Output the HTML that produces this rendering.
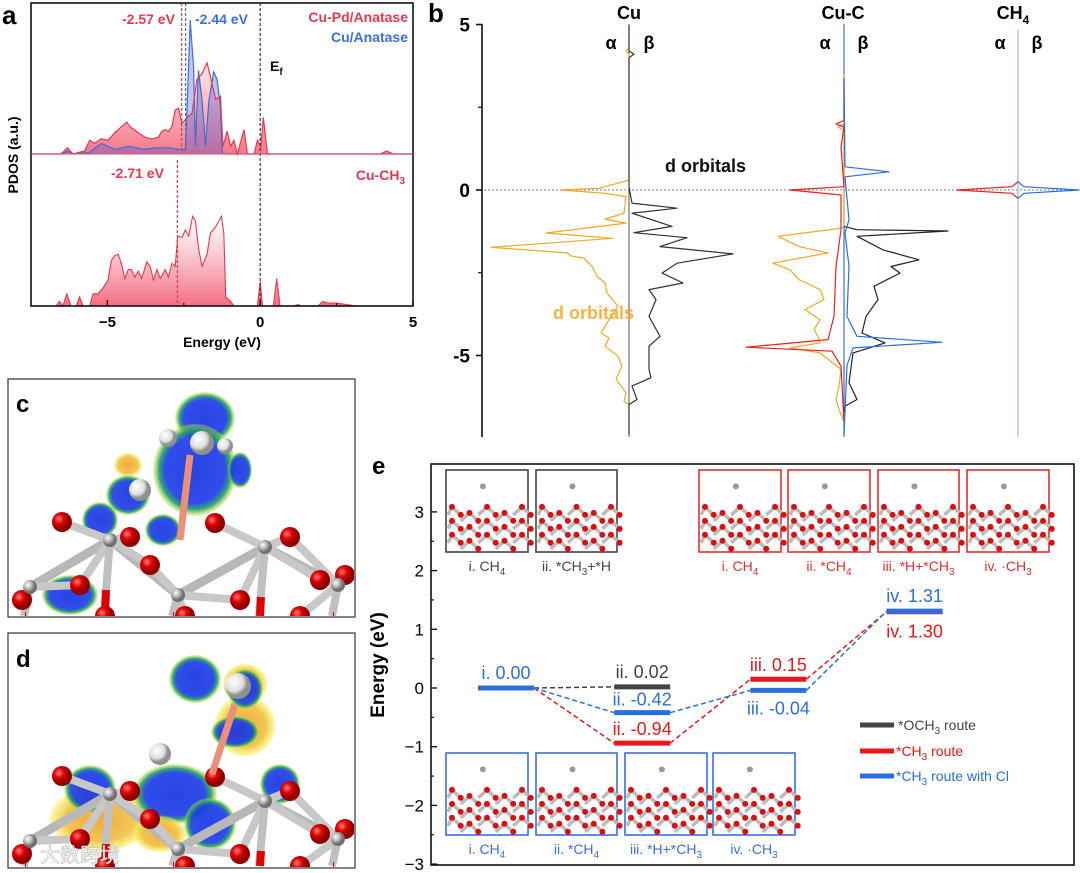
<!DOCTYPE html>
<html><head><meta charset="utf-8">
<style>
html,body{margin:0;padding:0;background:#fff;width:1080px;height:873px;overflow:hidden;}
svg{display:block;font-family:"Liberation Sans","Noto Sans CJK SC",sans-serif;}
</style></head>
<body>
<svg id="fig" width="1080" height="873" viewBox="0 0 1080 873" xmlns="http://www.w3.org/2000/svg">
<defs>
<linearGradient id="gradA" x1="0" y1="0" x2="0" y2="1">
<stop offset="0" stop-color="#f06a7a" stop-opacity="0.15"/><stop offset="1" stop-color="#f04860" stop-opacity="0.75"/>
</linearGradient>
<linearGradient id="gradB" x1="0" y1="0" x2="0" y2="1">
<stop offset="0" stop-color="#ffffff" stop-opacity="0.6"/><stop offset="1" stop-color="#f04860" stop-opacity="0.8"/>
</linearGradient>
<radialGradient id="blueBlob"><stop offset="0" stop-color="#1030e0"/><stop offset="0.72" stop-color="#1a3ae8"/><stop offset="0.86" stop-color="#20a060"/><stop offset="1" stop-color="#c8e040" stop-opacity="0.4"/></radialGradient>
<radialGradient id="yelBlob"><stop offset="0" stop-color="#f0a030"/><stop offset="0.7" stop-color="#f0c040"/><stop offset="1" stop-color="#f8f040" stop-opacity="0.5"/></radialGradient>
<radialGradient id="redBall" cx="0.35" cy="0.35"><stop offset="0" stop-color="#ff8080"/><stop offset="0.5" stop-color="#e00000"/><stop offset="1" stop-color="#900000"/></radialGradient>
<radialGradient id="grayBall" cx="0.35" cy="0.35"><stop offset="0" stop-color="#ffffff"/><stop offset="0.6" stop-color="#b0b0b0"/><stop offset="1" stop-color="#707070"/></radialGradient>
<radialGradient id="whiteBall" cx="0.35" cy="0.35"><stop offset="0" stop-color="#ffffff"/><stop offset="0.7" stop-color="#e0e0e0"/><stop offset="1" stop-color="#909090"/></radialGradient>
</defs>

<g id="panelA">
<text x="2" y="24" font-size="26" font-weight="bold">a</text>
<g id="aPlot"></g>
<rect x="31" y="3" width="382" height="303" fill="none" stroke="#111" stroke-width="1.6"/>
<line x1="31" y1="154" x2="413" y2="154" stroke="#e05070" stroke-width="1"/>
<text x="122" y="24" font-size="14" font-weight="bold" fill="#e8384f">-2.57 eV</text>
<text x="195" y="24" font-size="14" font-weight="bold" fill="#3a6fdc">-2.44 eV</text>
<text x="408" y="22" font-size="14" font-weight="bold" fill="#e8384f" text-anchor="end">Cu-Pd/Anatase</text>
<text x="408" y="42" font-size="14" font-weight="bold" fill="#3a6fdc" text-anchor="end">Cu/Anatase</text>
<text x="270" y="71" font-size="14" font-weight="bold" fill="#111">E<tspan font-size="10" dy="4">f</tspan></text>
<text x="111" y="178" font-size="14" font-weight="bold" fill="#e8384f">-2.71 eV</text>
<text x="405" y="180" font-size="14" font-weight="bold" fill="#e8384f" text-anchor="end">Cu-CH<tspan font-size="10" dy="4">3</tspan></text>
<g id="aTicks"></g>
<text x="222" y="347" font-size="14" font-weight="bold" text-anchor="middle">Energy (eV)</text>
<text transform="translate(18,155) rotate(-90)" font-size="14" font-weight="bold" text-anchor="middle">PDOS (a.u.)</text>
</g>

<g id="panelB">
<text x="428" y="22" font-size="26" font-weight="bold">b</text>
<g id="bPlot"></g>
<text x="629" y="19" font-size="18" font-weight="bold" text-anchor="middle">Cu</text>
<text x="843" y="19" font-size="18" font-weight="bold" text-anchor="middle">Cu-C</text>
<text x="1013" y="19" font-size="18" font-weight="bold" text-anchor="middle">CH<tspan font-size="12" dy="5">4</tspan></text>
<text x="611" y="49" font-size="18" font-weight="bold" text-anchor="middle">α</text>
<text x="649" y="49" font-size="18" font-weight="bold" text-anchor="middle">β</text>
<text x="825" y="49" font-size="18" font-weight="bold" text-anchor="middle">α</text>
<text x="863" y="49" font-size="18" font-weight="bold" text-anchor="middle">β</text>
<text x="1000" y="49" font-size="18" font-weight="bold" text-anchor="middle">α</text>
<text x="1037" y="49" font-size="18" font-weight="bold" text-anchor="middle">β</text>
<text x="665" y="172" font-size="18" font-weight="bold" fill="#111">d orbitals</text>
<text x="553" y="319" font-size="18" font-weight="bold" fill="#f5a623" fill-opacity="0.85">d orbitals</text>
</g>

<g id="panelC">
<rect x="8" y="379" width="347" height="238" fill="#fff" stroke="#333" stroke-width="1.2"/>
<g id="cDraw"></g>
<text x="16" y="412" font-size="24" font-weight="bold">c</text>
</g>

<g id="panelD">
<rect x="8" y="633" width="347" height="235" fill="#fff" stroke="#333" stroke-width="1.2"/>
<g id="dDraw"></g>
<text x="16" y="667" font-size="24" font-weight="bold">d</text>
<text x="40" y="862" font-size="20" fill="#fff" stroke="#bbb" stroke-width="0.6">大数跨境</text>
</g>

<g id="panelE">
<text x="372" y="474" font-size="24" font-weight="bold">e</text>
<rect x="431" y="464" width="643" height="401" fill="none" stroke="#111" stroke-width="1.6"/>
<g id="eTicks"></g>
<text transform="translate(384,665) rotate(-90)" font-size="19" font-weight="bold" text-anchor="middle">Energy (eV)</text>
<g id="eInsets"></g>
<g id="ePlot"></g>
<g id="eLegend">
<line x1="860" y1="725" x2="894" y2="725" stroke="#444" stroke-width="5"/>
<text x="898" y="730" font-size="14" fill="#444">*OCH<tspan font-size="10" dy="4">3</tspan><tspan dy="-4"> route</tspan></text>
<line x1="860" y1="751" x2="894" y2="751" stroke="#e81818" stroke-width="5"/>
<text x="896" y="756" font-size="14" fill="#e81818">*CH<tspan font-size="10" dy="4">3</tspan><tspan dy="-4"> route</tspan></text>
<line x1="860" y1="776" x2="894" y2="776" stroke="#2a6fe0" stroke-width="5"/>
<text x="896" y="781" font-size="14" fill="#2a6fe0">*CH<tspan font-size="10" dy="4">3</tspan><tspan dy="-4"> route with Cl</tspan></text>
</g>
</g>
</svg>

<script>
// ===== Panel a data (energy in eV, PDOS a.u.) =====
const aCuPdE = [-7.5,-6.52,-6.3,-6.13,-5.75,-5.58,-5.42,-5.2,-4.98,-4.76,-4.59,-4.37,-4.26,-3.99,-3.77,-3.55,-3.33,-3.22,-3.11,-3.0,-2.89,-2.78,-2.67,-2.56,-2.4,-2.23,-2.07,-1.9,-1.74,-1.63,-1.46,-1.3,-1.22,-1.08,-0.97,-0.86,-0.75,-0.53,-0.42,-0.2,-0.09,0.02,0.1,0.24,3.92,4.14,4.36,5.0];
const aCuPdV = [0,0,0.04,0,0.02,0.09,0.07,0.10,0.09,0.14,0.17,0.21,0.18,0.14,0.11,0.10,0.11,0.15,0.16,0.15,0.18,0.29,0.30,0.20,0.24,0.27,0.49,0.53,0.60,0.51,0.36,0.38,0.05,0.15,0.05,0.09,0,0.16,0,0,0.09,0.05,0.24,0,0,0.02,0,0];
const aCuE = [-7.5,-6.5,-6.3,-6.1,-5.6,-5.2,-4.98,-4.76,-4.3,-3.8,-3.4,-3.0,-2.7,-2.45,-2.4,-2.29,-2.18,-2.12,-2.02,-1.9,-1.79,-1.68,-1.52,-1.41,-1.3,-1.24,5.0];
const aCuV = [0,0,0.02,0,0.01,0.07,0.05,0.03,0.05,0.03,0.04,0.04,0.03,0.03,0.27,0.88,0.57,0.05,0.55,0.35,0.05,0.35,0.54,0.49,0.31,0,0];
const aCuCH3E = [-7.5,-6.68,-6.57,-6.46,-6.33,-6.19,-6.02,-5.91,-5.8,-5.58,-5.47,-5.31,-5.14,-4.98,-4.87,-4.76,-4.65,-4.54,-4.43,-4.32,-4.21,-4.1,-3.99,-3.88,-3.71,-3.6,-3.49,-3.38,-3.27,-3.11,-3.0,-2.89,-2.78,-2.7,-2.56,-2.45,-2.34,-2.21,-2.12,-2.01,-1.9,-1.74,-1.63,-1.46,-1.27,-1.19,-1.13,-0.97,-0.86,-0.09,0,0.08,0.43,0.54,0.65,1.12,1.23,1.34,1.89,2.05,2.22,2.49,2.82,3.15,5.0];
const aCuCH3V = [0,0,0.03,0,0.08,0,0,0.06,0,0,0.08,0.08,0.12,0.17,0.30,0.33,0.34,0.28,0.18,0.24,0.24,0.19,0.23,0.18,0.29,0.26,0.17,0.24,0.18,0.24,0.19,0.28,0.26,0.46,0.45,0.50,0.46,0.59,0.56,0.37,0.26,0.34,0.48,0.52,0.59,0.48,0.06,0.03,0,0,0.16,0,0,0.18,0,0,0.01,0,0,0.03,0.02,0.02,0.01,0,0];
const aDbandCenters = [-2.57,-2.44,-2.71];
const aXTicks = [-5,0,5];

// ===== Panel b data (energy eV, DOS a.u.; alpha negative, beta positive) =====
const bCuAlphaE = [5,4.3,4.2,4.1,0.3,0.05,0,-0.1,-0.2,-0.7,-0.88,-1.0,-1.3,-1.46,-1.73,-1.9,-1.99,-2.06,-2.31,-2.61,-2.81,-3.11,-3.51,-3.92,-4.32,-4.47,-4.72,-5.02,-5.32,-5.72,-6.12,-6.38,-6.48,-7.4];
const bCuAlphaV = [0,0,-0.03,0,0,-0.3,-0.68,-0.24,-0.03,-0.05,-0.24,-0.03,-0.83,-0.16,-1.38,-0.62,-0.58,-0.45,-0.37,-0.32,-0.24,-0.22,-0.11,-0.20,-0.28,-0.20,-0.24,-0.11,-0.07,-0.13,-0.03,-0.05,0,0];
const bCuBetaE = [5,4.2,4.1,4.0,0.1,-0.4,-0.55,-0.7,-1.1,-1.29,-1.44,-1.71,-1.93,-2.21,-2.51,-2.81,-3.01,-3.31,-3.82,-4.42,-4.72,-5.12,-5.42,-5.67,-5.92,-6.33,-6.48,-7.4];
const bCuBetaV = [0,0,0.05,0,0,0.03,0.48,0.03,0.43,0.05,0.58,0.31,1.04,0.48,0.33,0.54,0.20,0.27,0.20,0.31,0.20,0.20,0.20,0.22,0.03,0.08,0,0];
const bCuCAlphaOE = [3.5,2.0,1.9,1.8,-1.1,-1.15,-1.4,-1.71,-1.9,-2.21,-2.41,-2.71,-3.01,-3.31,-3.61,-3.92,-4.22,-4.42,-4.62,-4.77,-4.92,-5.42,-5.92,-6.33,-6.63,-7.0];
const bCuCAlphaOV = [0,0,-0.06,0,0,-0.02,-0.66,-0.45,-0.16,-0.71,-0.54,-0.45,-0.24,-0.20,-0.39,-0.24,-0.30,-0.26,-0.24,-0.54,-0.24,-0.03,-0.05,-0.08,-0.05,0];
const bCuCAlphaRE = [3.3,2.1,2.0,1.9,1.3,0.1,0,-0.15,-1.2,-2.31,-3.82,-4.52,-4.75,-4.87,-5.32,-7.0];
const bCuCAlphaRV = [0,0,-0.08,0,-0.03,0,-0.54,-0.03,-0.03,-0.08,-0.10,-0.16,-0.98,-0.12,-0.03,0];
const bCuCBetaBE = [3.4,0.7,0.55,0.4,-0.9,-1.3,-2.3,-3.82,-4.42,-4.6,-4.77,-5.3,-7.4];
const bCuCBetaBV = [0,0.01,0.45,0.01,0.05,0.01,0.05,0.03,0.13,0.98,0.09,0.03,0];
const bCuCBetaKE = [-1.1,-1.2,-1.24,-1.4,-1.81,-2.11,-2.31,-2.51,-2.91,-3.31,-3.82,-4.32,-4.62,-4.92,-5.82,-6.33,-6.53,-6.7];
const bCuCBetaKV = [0,0.13,1.04,0.13,0.39,0.75,0.47,0.56,0.30,0.34,0.22,0.18,0.41,0.09,0.05,0.13,0.01,0];
const bCH4AlphaE = [0.25,0.1,0,-0.1,-0.25];
const bCH4AlphaV = [0,-0.06,-0.61,-0.06,0];
const bCH4BetaE = [0.25,0.1,0,-0.1,-0.25];
const bCH4BetaV = [0,0.06,0.61,0.06,0];
const bYTicks = [5,0,-5];

// ===== Panel e data =====
const eSteps = ['i','ii','iii','iv'];
const eBlack = [0.00,0.02];
const eRed = [0.00,-0.94,0.15,1.30];
const eBlue = [0.00,-0.42,-0.04,1.31];
const eYTicks = [3,2,1,0,-1,-2,-3];

const NS='http://www.w3.org/2000/svg';
function mk(tag, attrs, parent){const e=document.createElementNS(NS,tag);for(const k in attrs)e.setAttribute(k,attrs[k]);if(parent)parent.appendChild(e);return e;}

// ---------- Panel a ----------
const ax = e => 31 + (e + 7.5) * (382/12.5);
const ayTop = v => 154 - v*152;
const ayBot = v => 306 - v*152;
const aPlot=document.getElementById('aPlot');
function areaPath(E,V,yf,base){let d='M'+ax(E[0])+','+base;for(let i=0;i<E.length;i++)d+=' L'+ax(E[i]).toFixed(1)+','+yf(V[i]).toFixed(1);d+=' L'+ax(E[E.length-1])+','+base+' Z';return d;}
function linePath(E,V,yf){let d='';for(let i=0;i<E.length;i++)d+=(i?' L':'M')+ax(E[i]).toFixed(1)+','+yf(V[i]).toFixed(1);return d;}
let p=mk('path',{d:areaPath(aCuPdE,aCuPdV,ayTop,154),fill:'url(#gradA)',stroke:'none'},aPlot);


p=mk('path',{d:areaPath(aCuE,aCuV,ayTop,154),fill:'#4a5ad0',"fill-opacity":'0.35',stroke:'none'},aPlot);


p=mk('path',{d:linePath(aCuE,aCuV,ayTop),fill:'none',stroke:'#3a6fdc','stroke-width':1.2},aPlot);


p=mk('path',{d:linePath(aCuPdE,aCuPdV,ayTop),fill:'none',stroke:'#e8384f','stroke-width':1.2},aPlot);


p=mk('path',{d:areaPath(aCuCH3E,aCuCH3V,ayBot,306),fill:'url(#gradB)',stroke:'none'},aPlot);


p=mk('path',{d:linePath(aCuCH3E,aCuCH3V,ayBot),fill:'none',stroke:'#e8384f','stroke-width':1.1},aPlot);


const dbColors=['#e8384f','#3a6fdc','#e8384f'];
const dbY=[[3,154],[3,154],[160,306]];
aDbandCenters.forEach((c,i)=>{const l=mk('line',{x1:ax(c),x2:ax(c),y1:dbY[i][0],y2:dbY[i][1],stroke:dbColors[i],'stroke-width':1.2,'stroke-dasharray':'3,2'},aPlot);

});
const ef=mk('line',{x1:ax(0),x2:ax(0),y1:3,y2:306,stroke:'#333','stroke-width':1.2,'stroke-dasharray':'3,2'},aPlot);


const aT=document.getElementById('aTicks');
aXTicks.forEach(t=>{mk('line',{x1:ax(t),x2:ax(t),y1:306,y2:300,stroke:'#111','stroke-width':1.4},aT);
const tx=mk('text',{x:ax(t),y:327,'font-size':15,'font-weight':'bold','text-anchor':'middle'},aT);tx.textContent=(t<0?'−':'')+Math.abs(t);

});
[-2.5,2.5].forEach(t=>mk('line',{x1:ax(t),x2:ax(t),y1:306,y2:303,stroke:'#111','stroke-width':1.2},aT));

// ---------- Panel b ----------
const by = e => 190 - e*33.1;
const bPlot=document.getElementById('bPlot');
mk('line',{x1:482,x2:482,y1:24,y2:437,stroke:'#111','stroke-width':1.6},bPlot);
bYTicks.forEach(t=>{mk('line',{x1:476,x2:482,y1:by(t),y2:by(t),stroke:'#111','stroke-width':1.6},bPlot);
const tx=mk('text',{x:470,y:by(t)+7,'font-size':19,'font-weight':'bold','text-anchor':'end'},bPlot);tx.textContent=t<0?'-5':String(t);

});
[2.5,-2.5].forEach(t=>mk('line',{x1:478,x2:482,y1:by(t),y2:by(t),stroke:'#111','stroke-width':1.2},bPlot));
const fl=mk('line',{x1:484,x2:1080,y1:by(0),y2:by(0),stroke:'#999','stroke-width':1.2,'stroke-dasharray':'2,2'},bPlot);


const centers={cu:629,cuc:844,ch4:1018};
mk('line',{x1:629,x2:629,y1:by(4.4),y2:437,stroke:'#555','stroke-width':1},bPlot);
mk('line',{x1:844,x2:844,y1:24,y2:437,stroke:'#3a6fdc','stroke-width':1.2},bPlot);
mk('line',{x1:1018,x2:1018,y1:30,y2:437,stroke:'#9ab4f0','stroke-width':1.2},bPlot);
function bCurve(E,V,cx,color,name){let d='';for(let i=0;i<E.length;i++)d+=(i?' L':'M')+(cx+V[i]*100).toFixed(1)+','+by(E[i]).toFixed(1);
const pp=mk('path',{d:d,fill:'none',stroke:color,'stroke-width':1.2,'stroke-linejoin':'round'},bPlot);

}
bCurve(bCuAlphaE,bCuAlphaV,centers.cu,'#f5a623','cu-alpha-d-dos');
bCurve(bCuBetaE,bCuBetaV,centers.cu,'#333','cu-beta-d-dos');
bCurve(bCuCAlphaOE,bCuCAlphaOV,centers.cuc,'#f5a623','cu-c-alpha-d-dos');
bCurve(bCuCBetaKE,bCuCBetaKV,centers.cuc,'#222','cu-c-beta-d-dos');
bCurve(bCuCAlphaRE,bCuCAlphaRV,centers.cuc,'#e82020','cu-c-alpha-c-dos');
bCurve(bCuCBetaBE,bCuCBetaBV,centers.cuc,'#2a6fe0','cu-c-beta-c-dos');
bCurve(bCH4AlphaE,bCH4AlphaV,centers.ch4,'#e82020','ch4-alpha-dos');
bCurve(bCH4BetaE,bCH4BetaV,centers.ch4,'#2a6fe0','ch4-beta-dos');

// ---------- Panels c, d (structures) ----------
function slab(g, base, bottom){
  const lim = y => Math.min(y, bottom);
  const grays=[[30,base+42],[110,base-5],[178,base+50],[265,base+2],[338,base+40]];
  const reds=[[62,base-23],[130,base-8],[215,base-22],[290,base-8],[320,base+35],[22,base+55],[80,base+40],[240,base+55],[150,base+20],[345,base+30],[185,lim(base+95)],[105,lim(base+95)],[300,lim(base+95)]];
  grays.forEach((a,i)=>{ if(i<grays.length-1) mk('line',{x1:a[0],y1:a[1],x2:grays[i+1][0],y2:grays[i+1][1],stroke:'#b8b8b8','stroke-width':9},g);
    reds.forEach(r=>{const dx=r[0]-a[0],dy=r[1]-a[1]; if(dx*dx+dy*dy<72*72) mk('line',{x1:a[0],y1:a[1],x2:r[0],y2:r[1],stroke:'#c8c8c8','stroke-width':8},g);});
    mk('line',{x1:a[0],y1:a[1],x2:a[0]-6,y2:lim(a[1]+90),stroke:'#c0c0c0','stroke-width':8},g);
    mk('line',{x1:a[0]-4,y1:lim(a[1]+50),x2:a[0]-5,y2:lim(a[1]+75),stroke:'#e00000','stroke-width':8},g);});
  reds.forEach(r=>mk('circle',{cx:r[0],cy:r[1],r:10,fill:'url(#redBall)'},g));
  grays.forEach(a=>mk('circle',{cx:a[0],cy:a[1],r:7,fill:'url(#grayBall)'},g));
}
function structure(g, top, isD, bottom){
  const blobs = isD ?
   [[245,top+92,30,30,'yelBlob'],[195,top+45,26,24,'blueBlob'],[245,top+50,22,20,'yelBlob'],[245,top+55,18,20,'blueBlob'],[235,top+98,24,16,'blueBlob'],[100,top+185,50,32,'yelBlob'],[175,top+160,42,30,'blueBlob'],[90,top+155,26,24,'blueBlob'],[210,top+190,26,26,'blueBlob'],[280,top+150,20,20,'blueBlob'],[160,top+200,26,18,'yelBlob']]
   :[[205,top+38,30,26,'blueBlob'],[195,top+90,42,46,'blueBlob'],[128,top+85,14,12,'yelBlob'],[128,top+115,22,20,'blueBlob'],[70,top+215,28,20,'blueBlob'],[163,top+150,18,16,'blueBlob'],[100,top+140,18,18,'blueBlob'],[240,top+90,12,18,'blueBlob']];
  blobs.forEach(b=>mk('ellipse',{cx:b[0],cy:b[1],rx:b[2],ry:Math.min(b[3],bottom-b[1]),fill:'url(#'+b[4]+')','fill-opacity':0.9},g));
  slab(g, top+165, bottom);
  if(isD){
    mk('line',{x1:212,y1:top+140,x2:235,y2:top+70,stroke:'#e8907a','stroke-width':7},g);
    mk('circle',{cx:238,cy:top+52,r:13,fill:'url(#whiteBall)'},g);
    mk('circle',{cx:160,cy:top+120,r:11,fill:'url(#whiteBall)'},g);
  } else {
    mk('line',{x1:180,y1:top+160,x2:190,y2:top+75,stroke:'#e8907a','stroke-width':7},g);
    mk('circle',{cx:168,cy:top+58,r:9,fill:'url(#whiteBall)'},g);
    mk('circle',{cx:202,cy:top+63,r:12,fill:'url(#whiteBall)'},g);
    mk('circle',{cx:225,cy:top+66,r:8,fill:'url(#whiteBall)'},g);
    mk('circle',{cx:140,cy:top+110,r:11,fill:'url(#whiteBall)'},g);
  }
}
const cG=document.getElementById('cDraw');const cl1=mk('clipPath',{id:'clipC'},cG);mk('rect',{x:9,y:380,width:345,height:236},cl1);
const cIn=mk('g',{'clip-path':'url(#clipC)'},cG);


structure(cIn,380,false,616);
const dG=document.getElementById('dDraw');const cl2=mk('clipPath',{id:'clipD'},dG);mk('rect',{x:9,y:634,width:345,height:233},cl2);
const dIn=mk('g',{'clip-path':'url(#clipD)'},dG);


structure(dIn,634,true,866);

// ---------- Panel e ----------
const eyv = v => 688 - v*58.7;
const exs = i => 506 + i*136.2;
const HW = 28;
const eT=document.getElementById('eTicks');
eYTicks.forEach(t=>{mk('line',{x1:431,x2:437,y1:eyv(t),y2:eyv(t),stroke:'#111','stroke-width':1.4},eT);
const tx=mk('text',{x:424,y:eyv(t)+6,'font-size':17,'text-anchor':'end'},eT);tx.textContent=(t<0?'−':'')+Math.abs(t);


if(t>-3) mk('line',{x1:431,x2:434,y1:eyv(t-0.5),y2:eyv(t-0.5),stroke:'#111','stroke-width':1.2},eT);});

const eIn=document.getElementById('eInsets');
function inset(x,y,w,h,color,label,sub,rest,name){
  const g=mk('g',{},eIn);
  
  
  mk('rect',{x:x,y:y,width:w,height:h,fill:'#fff',stroke:color,'stroke-width':1.6},g);
  const top=y+h*0.45;
  for(let r=0;r<3;r++){for(let c=0;c<5;c++){const cx=x+6+c*(w-12)/4, cy=top+r*(h*0.17)+(c%2)*6;
    mk('line',{x1:cx,y1:cy,x2:cx+(w-12)/8,y2:cy+8,stroke:'#bbb','stroke-width':3.5},g);
    mk('line',{x1:Math.max(cx-(w-12)/8,x+2),y1:cy+8,x2:cx,y2:cy,stroke:'#bbb','stroke-width':3.5},g);
    mk('circle',{cx:cx,cy:cy,r:3,fill:'#d81010'},g);mk('circle',{cx:cx+(w-12)/8,cy:cy+8,r:3,fill:'#d81010'},g);}}
  mk('circle',{cx:x+w*0.45,cy:y+h*0.2,r:3,fill:'#999'},g);
  const t=mk('text',{x:x+w/2,y:y+h+19,'font-size':14,fill:color,'text-anchor':'middle'},eIn);
  
  
  t.appendChild(document.createTextNode(label));
  if(sub){const s=mk('tspan',{'font-size':10,dy:4},t);s.textContent=sub;}
  if(rest){const s=mk('tspan',{dy:-4},t);s.textContent=rest;}
}
inset(446,470,82,82,'#444','i. CH','4','','inset-och3-i');
inset(536,470,81,82,'#444','ii. *CH','3','+*H','inset-och3-ii');
inset(699,470,82,82,'#e03030','i. CH','4','','inset-ch3-i');
inset(788,470,82,82,'#e03030','ii. *CH','4','','inset-ch3-ii');
inset(878,470,81,82,'#e03030','iii. *H+*CH','3','','inset-ch3-iii');
inset(967,470,82,82,'#e03030','iv. ·CH','3','','inset-ch3-iv');
inset(446,753,82,82,'#3a6fdc','i. CH','4','','inset-cl-i');
inset(536,753,81,82,'#3a6fdc','ii. *CH','4','','inset-cl-ii');
inset(625,753,82,82,'#3a6fdc','iii. *H+*CH','3','','inset-cl-iii');
inset(713,753,82,82,'#3a6fdc','iv. ·CH','3','','inset-cl-iv');

const eP=document.getElementById('ePlot');
function route(vals,color,name){
  for(let i=0;i<vals.length-1;i++){const l=mk('line',{x1:exs(i)+HW,y1:eyv(vals[i]),x2:exs(i+1)-HW,y2:eyv(vals[i+1]),stroke:color,'stroke-width':1.5,'stroke-dasharray':'5,3'},eP);
  
  }
  vals.forEach((v,i)=>{const b=mk('line',{x1:exs(i)-HW,x2:exs(i)+HW,y1:eyv(v),y2:eyv(v),stroke:color,'stroke-width':5},eP);
  
  });
}
route(eBlack,'#444','och3-route');
route(eRed,'#e81818','ch3-route');
route(eBlue,'#2a6fe0','ch3-cl-route');
function lab(step,val,color,dy){const t=mk('text',{x:exs(step),y:eyv(val)+dy,'font-size':18,fill:color,'text-anchor':'middle'},eP);
t.textContent=eSteps[step]+'. '+val.toFixed(2);

}
lab(0,eBlue[0],'#2a6fe0',-9);
lab(1,eBlack[1],'#444',-9);
lab(1,eBlue[1],'#2a6fe0',-7);
lab(1,eRed[1],'#e81818',-8);
lab(2,eRed[2],'#e81818',-8);
lab(2,eBlue[2],'#2a6fe0',24);
lab(3,eBlue[3],'#2a6fe0',-9);
lab(3,eRed[3],'#e81818',26);
</script>
</body></html>
